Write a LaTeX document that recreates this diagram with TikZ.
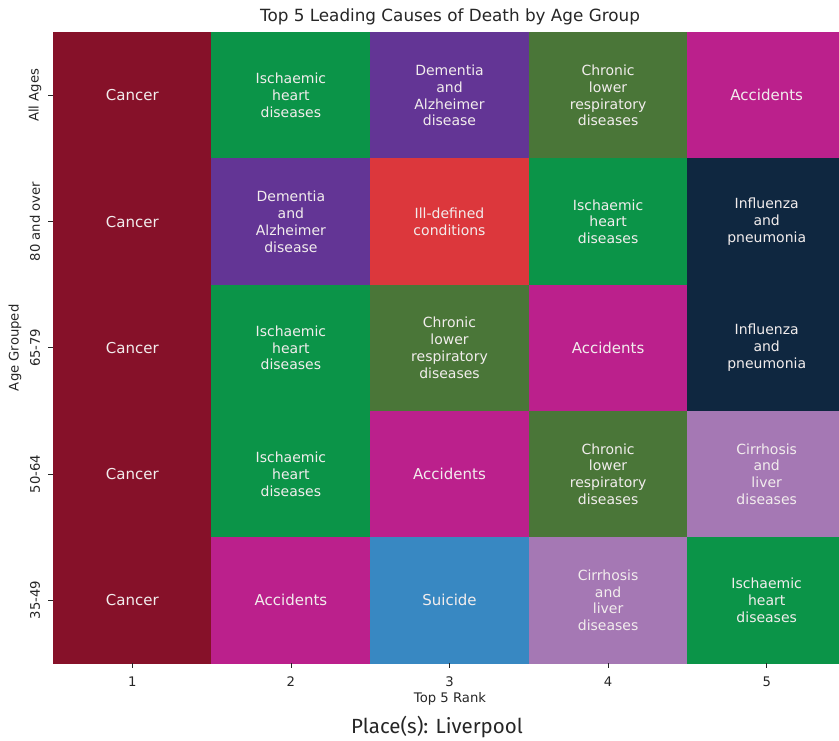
\documentclass[tikz,border=0pt]{standalone}
\usepackage{fontspec}
\setmainfont{DejaVu Sans}
\newfontfamily\placefont{Fira Sans}
\usepackage{xcolor}
\usetikzlibrary{positioning}
\definecolor{cCancer}{RGB}{134,17,41}
\definecolor{cHeart}{RGB}{11,148,72}
\definecolor{cDementia}{RGB}{99,53,149}
\definecolor{cChronic}{RGB}{74,118,56}
\definecolor{cAccident}{RGB}{187,32,140}
\definecolor{cIll}{RGB}{220,55,60}
\definecolor{cFlu}{RGB}{15,39,64}
\definecolor{cCirrhosis}{RGB}{165,120,180}
\definecolor{cSuicide}{RGB}{56,136,194}
\definecolor{celltext}{RGB}{242,237,237}
\definecolor{axisgray}{RGB}{38,38,38}
\newcommand{\cellmulti}{\fontsize{14}{16.8}\selectfont}
\newcommand{\cellsingle}{\fontsize{15}{18}\selectfont}
\newcommand{\axisfont}{\fontsize{13.2}{15.8}\selectfont}

\begin{document}
\begin{tikzpicture}[x=1pt,y=-1pt,
    cell/.style={minimum width=158.6pt,minimum height=126.2pt,inner sep=0pt,outer sep=0pt,
        align=center,text=celltext,font=\cellmulti,line width=0.4pt},
    oneline/.style={font=\cellsingle},
    cancer/.style={cell,fill=cCancer,draw=cCancer},
    heart/.style={cell,fill=cHeart,draw=cHeart},
    dementia/.style={cell,fill=cDementia,draw=cDementia},
    chronic/.style={cell,fill=cChronic,draw=cChronic},
    accident/.style={cell,fill=cAccident,draw=cAccident},
    illdef/.style={cell,fill=cIll,draw=cIll},
    flu/.style={cell,fill=cFlu,draw=cFlu},
    cirrhosis/.style={cell,fill=cCirrhosis,draw=cCirrhosis},
    suicide/.style={cell,fill=cSuicide,draw=cSuicide},
    tick/.style={draw=axisgray,line width=0.8pt},
    axislab/.style={font=\axisfont,text=axisgray,inner sep=0pt}]
    \useasboundingbox (0,0) rectangle (839,740);
    \clip (0,0) rectangle (839,740);
    % All Ages
    \node[cancer,oneline] (a1) at (132.3,95.4) {Cancer};
    \node[heart,right=0pt of a1] (a2) {Ischaemic\\heart\\diseases};
    \node[dementia,right=0pt of a2] (a3) {Dementia\\and\\Alzheimer\\disease};
    \node[chronic,right=0pt of a3] (a4) {Chronic\\lower\\respiratory\\diseases};
    \node[accident,oneline,right=0pt of a4] (a5) {Accidents};
    % 80 and over
    \node[cancer,oneline,below=0pt of a1] (b1) {Cancer};
    \node[dementia,right=0pt of b1] (b2) {Dementia\\and\\Alzheimer\\disease};
    \node[illdef,right=0pt of b2] (b3) {Ill-defined\\conditions};
    \node[heart,right=0pt of b3] (b4) {Ischaemic\\heart\\diseases};
    \node[flu,right=0pt of b4] (b5) {Influenza\\and\\pneumonia};
    % 65-79
    \node[cancer,oneline,below=0pt of b1] (c1) {Cancer};
    \node[heart,right=0pt of c1] (c2) {Ischaemic\\heart\\diseases};
    \node[chronic,right=0pt of c2] (c3) {Chronic\\lower\\respiratory\\diseases};
    \node[accident,oneline,right=0pt of c3] (c4) {Accidents};
    \node[flu,right=0pt of c4] (c5) {Influenza\\and\\pneumonia};
    % 50-64
    \node[cancer,oneline,below=0pt of c1] (d1) {Cancer};
    \node[heart,right=0pt of d1] (d2) {Ischaemic\\heart\\diseases};
    \node[accident,oneline,right=0pt of d2] (d3) {Accidents};
    \node[chronic,right=0pt of d3] (d4) {Chronic\\lower\\respiratory\\diseases};
    \node[cirrhosis,right=0pt of d4] (d5) {Cirrhosis\\and\\liver\\diseases};
    % 35-49
    \node[cancer,oneline,below=0pt of d1] (e1) {Cancer};
    \node[accident,oneline,right=0pt of e1] (e2) {Accidents};
    \node[suicide,oneline,right=0pt of e2] (e3) {Suicide};
    \node[cirrhosis,right=0pt of e3] (e4) {Cirrhosis\\and\\liver\\diseases};
    \node[heart,right=0pt of e4] (e5) {Ischaemic\\heart\\diseases};
    % y ticks
    \draw[tick] (a1.west) -- ++(-5,0);
    \draw[tick] (b1.west) -- ++(-5,0);
    \draw[tick] (c1.west) -- ++(-5,0);
    \draw[tick] (d1.west) -- ++(-5,0);
    \draw[tick] (e1.west) -- ++(-5,0);
    \node[axislab,rotate=90] (la) at ([xshift=-18pt]a1.west) {All Ages};
    \node[axislab,rotate=90] (lb) at ([xshift=-18pt]b1.west) {80 and over};
    \node[axislab,rotate=90] (lc) at ([xshift=-18pt]c1.west) {65-79};
    \node[axislab,rotate=90] (ld) at ([xshift=-18pt]d1.west) {50-64};
    \node[axislab,rotate=90] (le) at ([xshift=-18pt]e1.west) {35-49};
    \node[axislab,rotate=90] (ylab) at ([xshift=-38pt]c1.west) {Age Grouped};
    % x ticks
    \draw[tick] (e1.south) -- ++(0,5);
    \draw[tick] (e2.south) -- ++(0,5);
    \draw[tick] (e3.south) -- ++(0,5);
    \draw[tick] (e4.south) -- ++(0,5);
    \draw[tick] (e5.south) -- ++(0,5);
    \node[axislab] (l1) at ([yshift=-18pt]e1.south) {1};
    \node[axislab] (l2) at ([yshift=-18pt]e2.south) {2};
    \node[axislab] (l3) at ([yshift=-18pt]e3.south) {3};
    \node[axislab] (l4) at ([yshift=-18pt]e4.south) {4};
    \node[axislab] (l5) at ([yshift=-18pt]e5.south) {5};
    \node[axislab] (xlab) at (450,699) {Top 5 Rank};
    % title and place
    \node[font=\fontsize{16.8}{20}\selectfont,text=axisgray,inner sep=0pt] (title) at (450,17)
        {Top 5 Leading Causes of Death by Age Group};
    \node[font=\placefont\fontsize{20.5}{24}\selectfont,text=axisgray,inner sep=0pt] (place) at (437,727)
        {Place(s): Liverpool};
\end{tikzpicture}
\end{document}
